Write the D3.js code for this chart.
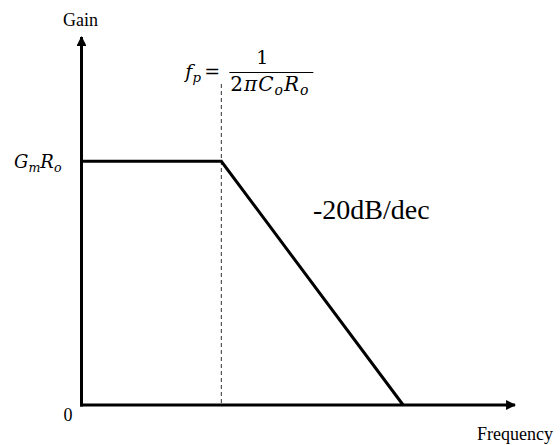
<!DOCTYPE html>
<html>
<head>
<meta charset="utf-8">
<script src="https://cdn.jsdelivr.net/npm/d3@7"></script>
<style>
  html, body { margin: 0; padding: 0; background: #fff; }
  svg { display: block; }
  .serif { font-family: "Liberation Serif", "Times New Roman", Times, serif; }
  .math  { font-family: "DejaVu Serif", "Liberation Serif", serif; }
</style>
</head>
<body>
<svg id="chart" width="560" height="445"></svg>
<script>
// Asymptotic gain response of a single-pole stage (frequency axis in decades)
const freqDecades = [0, 2, 4.6];      // plateau start, pole, zero-gain crossing
const gainValues  = [1, 1, 0];        // normalised gain (1 = GmRo)
const poleDecade  = 2;                // f_p position
const xDomain     = [0, 6.2];
const yDomain     = [0, 1.51];
const yTickValues = [0, 1];
const slopeLabel  = "-20dB/dec";
const xAxisTitle  = "Frequency";
const yAxisTitle  = "Gain";

const svg = d3.select("#chart");
const x = d3.scaleLinear().domain(xDomain).range([81.5, 515]);
const y = d3.scaleLinear().domain(yDomain).range([405, 37]);

// arrow marker for the axes
svg.append("defs").append("marker")
  .attr("id", "arrow")
  .attr("viewBox", "0 0 10 10")
  .attr("refX", 9).attr("refY", 5)
  .attr("markerWidth", 3.3).attr("markerHeight", 3.3)
  .attr("markerUnits", "strokeWidth")
  .attr("orient", "auto")
  .append("path").attr("d", "M0,0 L10,5 L0,10 Z").attr("fill", "#000");

// pole marker (dashed)
svg.append("line")
  .attr("x1", x(poleDecade)).attr("x2", x(poleDecade))
  .attr("y1", 84).attr("y2", y(0))
  .attr("stroke", "#333").attr("stroke-width", 1)
  .attr("stroke-dasharray", "4,3");

// response curve
const line = d3.line().x(d => x(d[0])).y(d => y(d[1]));
svg.append("path")
  .datum(d3.zip(freqDecades, gainValues))
  .attr("d", line)
  .attr("fill", "none").attr("stroke", "#000")
  .attr("stroke-width", 3).attr("stroke-linejoin", "miter");

// axes
svg.append("line")
  .attr("x1", x(0)).attr("y1", y(0) + 1.5)
  .attr("x2", x(0)).attr("y2", y(yDomain[1]))
  .attr("stroke", "#000").attr("stroke-width", 3)
  .attr("marker-end", "url(#arrow)");
svg.append("line")
  .attr("x1", x(0) - 1.5).attr("y1", y(0))
  .attr("x2", x(xDomain[1])).attr("y2", y(0))
  .attr("stroke", "#000").attr("stroke-width", 3)
  .attr("marker-end", "url(#arrow)");

// axis titles
svg.append("text").text(yAxisTitle)
  .attr("class", "serif")
  .attr("x", x(0) - 1).attr("y", 26)
  .attr("text-anchor", "middle")
  .attr("font-size", 18);
svg.append("text").text(xAxisTitle)
  .attr("class", "serif")
  .attr("x", 553).attr("y", 440)
  .attr("text-anchor", "end")
  .attr("font-size", 18);

// y tick labels
svg.append("text").text("0")
  .attr("class", "serif")
  .attr("x", 68).attr("y", y(yTickValues[0]) + 16)
  .attr("text-anchor", "middle")
  .attr("font-size", 18);

function mathText(g, parts, size) {
  const t = g.append("text")
    .attr("class", "math")
    .attr("font-style", "italic")
    .attr("font-size", size);
  parts.forEach(p => {
    const s = t.append("tspan").text(p.t);
    if (p.sub) s.attr("font-size", size * 0.7).attr("dy", size * 0.22);
    else if (p.after) s.attr("dy", -size * 0.22);
    if (p.upright) s.attr("font-style", "normal");
  });
  return t;
}

// G_m R_o label at the plateau level
mathText(svg.append("g"), [
  {t: "G"}, {t: "m", sub: true}, {t: "R", after: true}, {t: "o", sub: true}
], 18).attr("x", 14).attr("y", y(yTickValues[1]) + 7);

// pole frequency formula
const fx = x(poleDecade);
mathText(svg.append("g"), [
  {t: "f"}, {t: "p", sub: true}
], 19).attr("x", fx - 36).attr("y", 78);
svg.append("text").text("=")
  .attr("class", "math")
  .attr("x", fx - 17).attr("y", 78)
  .attr("font-size", 19);
svg.append("line")
  .attr("x1", fx + 8).attr("x2", fx + 92)
  .attr("y1", 72.5).attr("y2", 72.5)
  .attr("stroke", "#000").attr("stroke-width", 1.2);
svg.append("text").text("1")
  .attr("class", "math")
  .attr("x", fx + 41).attr("y", 64)
  .attr("text-anchor", "middle")
  .attr("font-size", 19);
mathText(svg.append("g"), [
  {t: "2", upright: true}, {t: "π"}, {t: "C"}, {t: "o", sub: true},
  {t: "R", after: true}, {t: "o", sub: true}
], 20).attr("x", fx + 9).attr("y", 91)
  .attr("letter-spacing", 1);

// slope annotation
svg.append("text").text(slopeLabel)
  .attr("class", "serif")
  .attr("x", 313).attr("y", 219)
  .attr("font-size", 28);
</script>
</body>
</html>
